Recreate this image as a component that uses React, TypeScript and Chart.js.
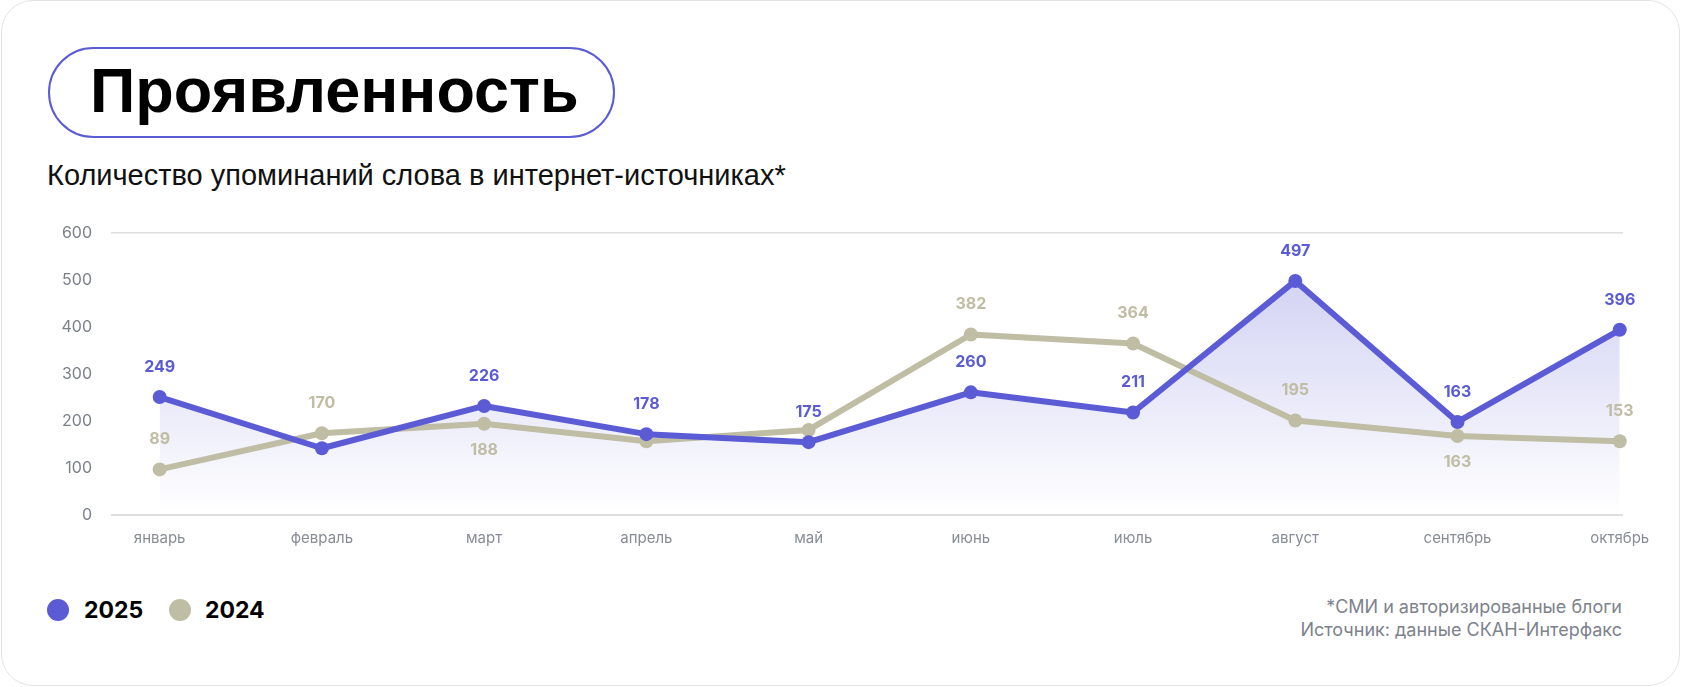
import React, { useEffect, useRef } from 'react';
import { Chart, registerables } from 'chart.js';

Chart.register(...registerables);

const months = ['январь', 'февраль', 'март', 'апрель', 'май', 'июнь', 'июль', 'август', 'сентябрь', 'октябрь'];
const values2025 = [251, 142, 232, 172, 155, 261, 218, 498, 198, 394];
const values2024 = [97, 174, 194, 157, 181, 384, 365, 201, 168, 157];
const labels2025 = ['249', '', '226', '178', '175', '260', '211', '497', '163', '396'];
const labels2024 = ['89', '170', '188', '', '', '382', '364', '195', '163', '153'];
const below2024 = [false, false, true, false, false, false, false, false, true, false];
const seriesNames = ['2025', '2024'];

const BLUE = '#5B5BD6';
const BEIGE = '#BFBDA4';

const valueLabelPlugin = {
  id: 'valueLabels',
  afterDatasetsDraw(chart: any, _args: any, opts: any) {
    const ctx = chart.ctx;
    (opts.sets || []).forEach((set: any, di: number) => {
      const meta = chart.getDatasetMeta(di);
      meta.data.forEach((pt: any, i: number) => {
        const t = set.texts[i];
        if (!t) return;
        ctx.save();
        ctx.font = '700 16px Inter';
        ctx.fillStyle = set.color;
        ctx.textAlign = 'center';
        ctx.textBaseline = 'middle';
        const isBelow = set.below && set.below[i];
        ctx.fillText(t, pt.x, isBelow ? pt.y + 26 : pt.y - 30);
        ctx.restore();
      });
    });
  },
};

function LineChart() {
  const ref = useRef<HTMLCanvasElement | null>(null);
  useEffect(() => {
    if (!ref.current) return;
    const chart = new Chart(ref.current, {
      type: 'line',
      data: {
        datasets: [
          {
            label: seriesNames[0],
            data: values2025.map((v, i) => ({ x: i, y: v })),
            borderColor: BLUE,
            backgroundColor: (c: any) => {
              const area = c.chart.chartArea;
              if (!area) return 'rgba(91,91,214,0.1)';
              const g = c.chart.ctx.createLinearGradient(0, area.top, 0, area.bottom);
              g.addColorStop(0, 'rgba(91,91,214,0.32)');
              g.addColorStop(1, 'rgba(91,91,214,0)');
              return g;
            },
            fill: 'origin',
            clip: false,
            borderWidth: 6,
            pointRadius: 7,
            pointBackgroundColor: BLUE,
            pointBorderWidth: 0,
            borderJoinStyle: 'round',
            tension: 0,
          },
          {
            label: seriesNames[1],
            data: values2024.map((v, i) => ({ x: i, y: v })),
            borderColor: BEIGE,
            backgroundColor: BEIGE,
            fill: false,
            clip: false,
            borderWidth: 6,
            pointRadius: 7,
            pointBackgroundColor: BEIGE,
            pointBorderWidth: 0,
            borderJoinStyle: 'round',
            tension: 0,
          },
        ],
      },
      options: {
        animation: false,
        responsive: false,
        layout: { padding: { top: 33, right: 58, bottom: 15, left: 0 } },
        plugins: {
          legend: { display: false },
          tooltip: { enabled: false },
          filler: { drawTime: 'beforeDatasetsDraw' },
          valueLabels: {
            sets: [
              { texts: labels2025, color: BLUE, below: null },
              { texts: labels2024, color: BEIGE, below: below2024 },
            ],
          },
        } as any,
        scales: {
          x: {
            type: 'linear',
            bounds: 'data',
            min: -0.3,
            max: 9.02,
            afterBuildTicks: (scale: any) => {
              scale.ticks = months.map((_, i) => ({ value: i }));
            },
            afterFit: (scale: any) => {
              scale.height = 40;
            },
            ticks: {
              autoSkip: false,
              maxRotation: 0,
              padding: 14,
              color: '#878c96',
              font: { family: 'Inter', size: 15 },
              callback: (value: any) => months[Math.round(Number(value))] ?? '',
            },
            grid: { display: false, drawTicks: false },
            border: { display: false },
          },
          y: {
            min: 0,
            max: 600,
            afterFit: (scale: any) => {
              scale.width = 111;
            },
            ticks: {
              stepSize: 100,
              padding: 19,
              color: '#7b808a',
              font: { family: 'Inter', size: 16 },
            },
            grid: {
              drawTicks: false,
              color: (c: any) => (c.tick && (c.tick.value === 0 || c.tick.value === 600) ? '#dedede' : 'rgba(0,0,0,0)'),
              lineWidth: (c: any) => (c.tick && c.tick.value === 0 ? 2 : 1.5),
            },
            border: { display: false },
          },
        },
      },
      plugins: [valueLabelPlugin],
    } as any);
    return () => chart.destroy();
  }, []);
  return (
    <canvas
      ref={ref}
      width={1681}
      height={370}
      style={{ position: 'absolute', left: 0, top: 200, width: 1681, height: 370 }}
    />
  );
}

export default function App() {
  return (
    <div style={{ position: 'absolute', left: 0, top: 0, width: 1681, height: 687, background: '#fff', overflow: 'hidden' }}>
      <div
        style={{
          position: 'absolute',
          left: 1,
          top: 0,
          width: 1679,
          height: 686,
          boxSizing: 'border-box',
          border: '1.5px solid #e3e3e3',
          borderRadius: 32,
        }}
      />
      <div
        style={{
          position: 'absolute',
          left: 48,
          top: 47,
          width: 567,
          height: 91,
          boxSizing: 'border-box',
          border: '2.7px solid #5B5BD6',
          borderRadius: 46,
        }}
      />
      <div
        style={{
          position: 'absolute',
          left: 90,
          top: 59,
          fontFamily: '"Liberation Sans", Arial, sans-serif',
          fontWeight: 700,
          fontSize: 63,
          lineHeight: '62px',
          color: '#000',
          whiteSpace: 'nowrap',
        }}
      >
        Проявленность
      </div>
      <div
        style={{
          position: 'absolute',
          left: 47,
          top: 158,
          fontFamily: '"Liberation Sans", Arial, sans-serif',
          fontSize: 29,
          lineHeight: '34px',
          color: '#111',
          whiteSpace: 'nowrap',
        }}
      >
        Количество упоминаний слова в интернет-источниках*
      </div>
      <LineChart />
      <div style={{ position: 'absolute', left: 47, top: 599, width: 22, height: 22, borderRadius: 11, background: BLUE }} />
      <div
        style={{
          position: 'absolute',
          left: 84,
          top: 596,
          fontFamily: 'Inter, sans-serif',
          fontWeight: 700,
          fontSize: 23,
          lineHeight: '28px',
          color: '#000',
        }}
      >
        {seriesNames[0]}
      </div>
      <div style={{ position: 'absolute', left: 169, top: 599, width: 22, height: 22, borderRadius: 11, background: BEIGE }} />
      <div
        style={{
          position: 'absolute',
          left: 205,
          top: 596,
          fontFamily: 'Inter, sans-serif',
          fontWeight: 700,
          fontSize: 23,
          lineHeight: '28px',
          color: '#000',
        }}
      >
        {seriesNames[1]}
      </div>
      <div
        style={{
          position: 'absolute',
          right: 59,
          top: 595,
          textAlign: 'right',
          fontFamily: 'Inter, sans-serif',
          fontSize: 18,
          lineHeight: '23px',
          color: '#7d828c',
          whiteSpace: 'nowrap',
        }}
      >
        <div>*СМИ и авторизированные блоги</div>
        <div>Источник: данные СКАН-Интерфакс</div>
      </div>
    </div>
  );
}
